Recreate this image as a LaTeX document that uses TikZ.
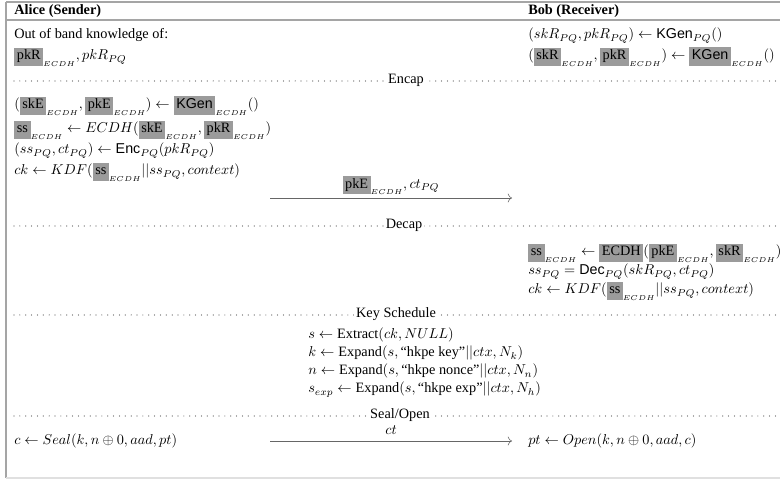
\documentclass[tikz,border=0pt]{standalone}
\usepackage{fontspec}
\setmainfont{Liberation Serif}
\setsansfont{Liberation Sans}
\usetikzlibrary{arrows.meta}
\definecolor{boxgray}{RGB}{155,155,155}
\definecolor{framegray}{RGB}{165,165,165}
\definecolor{dotgray}{RGB}{85,85,85}
\newcommand{\gbx}[1]{{\setlength{\fboxsep}{1.8pt}\colorbox{boxgray}{\vphantom{pkR}#1}}}
\newcommand{\ec}{{\scriptscriptstyle ECDH}}
\tikzset{
  txt/.style={anchor=base west, inner sep=0pt},
  hdr/.style={txt, font=\bfseries},
  sec/.style={anchor=base, fill=white, inner xsep=1.5pt, inner ysep=0.5pt},
  dotrule/.style={dotgray, line width=0.85pt, line cap=round, dash pattern=on 0pt off 4.1pt},
  msg/.style={-{To[length=3pt]}, line width=0.4pt, draw=black!60},
  lab/.style={above, text=black},
  frame/.style={framegray, line width=0.8pt},
  faint/.style={black!12, line width=0.8pt}
}
\begin{document}
\begin{tikzpicture}[x=0.7pt, y=-0.7pt]
\useasboundingbox (0,0) rectangle (780,480);
% frame
\draw[frame] (6,2) -- (790,2);
\draw[frame] (6,2) -- (6,478);
\draw[frame] (6,20) -- (790,20);
\draw[faint] (6,478) -- (790,478);
% headers
\node[hdr] (alice) at (14,15) {Alice (Sender)};
\node[hdr] (bob) at (528,15) {Bob (Receiver)};
% setup
\node[txt] (oob) at (14,39) {Out of band knowledge of:};
\node[txt] (pkr) at (14,60) {$\gbx{pkR}_\ec, pkR_{PQ}$};
\node[txt] (bk1) at (528,39) {$(skR_{PQ}, pkR_{PQ}) \leftarrow \mathsf{KGen}_{PQ}()$};
\node[txt] (bk2) at (528,60) {$(\gbx{skR}_\ec, \gbx{pkR}_\ec) \leftarrow \gbx{\sffamily KGen}_\ec()$};
% Encap
\draw[dotrule] (14,81) -- (780,81);
\node[sec] (encap) at (406,84) {Encap};
\node[txt] (a1) at (14,109) {$(\gbx{skE}_\ec, \gbx{pkE}_\ec) \leftarrow \gbx{\sffamily KGen}_\ec()$};
\node[txt] (a2) at (14,133) {$\gbx{ss}_\ec \leftarrow ECDH(\gbx{skE}_\ec, \gbx{pkR}_\ec)$};
\node[txt] (a3) at (14,154) {$(ss_{PQ}, ct_{PQ}) \leftarrow \mathsf{Enc}_{PQ}(pkR_{PQ})$};
\node[txt] (a4) at (14,175) {$ck \leftarrow KDF(\gbx{ss}_\ec||ss_{PQ}, context)$};
\coordinate (m1a) at (270,198);
\coordinate (m1b) at (512,198);
\draw[msg] (m1a) -- node[lab, inner sep=2pt] (m1lab) {$\gbx{pkE}_\ec, ct_{PQ}$} (m1b);
% Decap
\draw[dotrule] (14,226) -- (780,226);
\node[sec] (decap) at (404,229) {Decap};
\node[txt] (b1) at (528,256) {$\gbx{ss}_\ec \leftarrow \gbx{ECDH}(\gbx{pkE}_\ec, \gbx{skR}_\ec)$};
\node[txt] (b2) at (528,275) {$ss_{PQ} = \mathsf{Dec}_{PQ}(skR_{PQ}, ct_{PQ})$};
\node[txt] (b3) at (528,294) {$ck \leftarrow KDF(\gbx{ss}_\ec||ss_{PQ}, context)$};
% Key schedule
\draw[dotrule] (14,315) -- (780,315);
\node[sec] (ks) at (396,318) {Key Schedule};
\node[txt] (k1) at (308,339) {$s \leftarrow \mathrm{Extract}(ck, NULL)$};
\node[txt] (k2) at (308,357) {$k \leftarrow \mathrm{Expand}(s, \mbox{``hkpe key''}||ctx, N_k)$};
\node[txt] (k3) at (308,375) {$n \leftarrow \mathrm{Expand}(s, \mbox{``hkpe nonce''}||ctx, N_n)$};
\node[txt] (k4) at (308,393) {$s_{exp} \leftarrow \mathrm{Expand}(s, \mbox{``hkpe exp''}||ctx, N_h)$};
% Seal/Open
\draw[dotrule] (14,416) -- (780,416);
\node[sec] (so) at (400,419) {Seal/Open};
\node[txt] (s1) at (14,445) {$c \leftarrow Seal(k, n \oplus 0, aad, pt)$};
\coordinate (m2a) at (270,441);
\coordinate (m2b) at (512,441);
\draw[msg] (m2a) -- node[lab, inner sep=4pt] (m2lab) {$ct$} (m2b);
\node[txt] (s2) at (528,445) {$pt \leftarrow Open(k, n \oplus 0, aad, c)$};
\end{tikzpicture}
\end{document}
